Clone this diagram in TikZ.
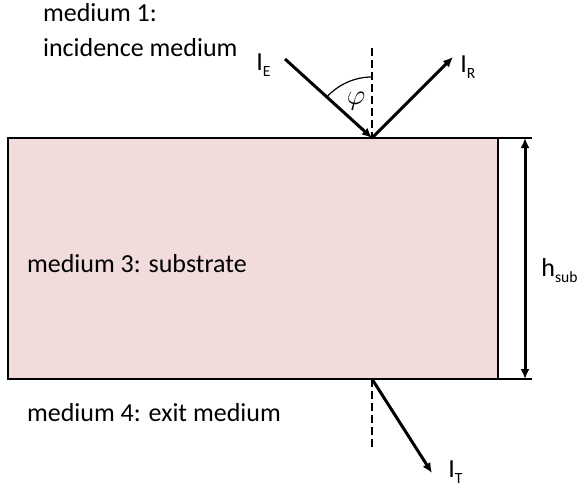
\documentclass[tikz,border=0pt]{standalone}
\usepackage{fontspec}
\setmainfont{Carlito}
\usetikzlibrary{calc,arrows.meta}
\definecolor{substrate}{HTML}{F2DCDB}
\newcommand{\lsub}[1]{\raisebox{-3.3pt}{\fontsize{7.8}{9}\selectfont #1}}

\begin{document}
\begin{tikzpicture}[x=0.5pt,y=-0.5pt,font=\fontsize{13}{15}\selectfont]
    \useasboundingbox (0,0) rectangle (581,487);
    \coordinate (TL) at (8,138);
    \coordinate (BR) at (498,379);
    \coordinate (P) at (372,138);
    \coordinate (Q) at (372,379);
    \coordinate (E) at (285,59);
    \coordinate (R) at (453,57);
    \coordinate (T) at (432,473);
    \coordinate (H1) at (525,138);
    \coordinate (H2) at (525,379);
    \fill[substrate] (TL) rectangle (BR);
    \draw[line width=1pt] (TL) rectangle (BR);
    \draw[line width=0.7pt] (BR) -- (532,379);
    \draw[line width=0.7pt] (498,138) -- (532,138);
    \draw[dash pattern=on 4pt off 2pt, line width=0.7pt] (372,48) -- (P);
    \draw[dash pattern=on 4pt off 2pt, line width=0.7pt] (Q) -- (372,448);
    \draw[line width=1.5pt, -{Latex[length=5pt,width=4.5pt]}] (E) -- (P);
    \draw[line width=1.5pt, -{Latex[length=5pt,width=4.5pt]}] (P) -- (R);
    \draw[line width=1.5pt, -{Latex[length=5pt,width=4.5pt]}] (Q) -- (T);
    \draw[line width=1.5pt, {Latex[length=5pt,width=4.5pt]}-{Latex[length=5pt,width=4.5pt]}] (H1) -- (H2);
    \draw[line width=0.6pt] ($(P)+(-90:61)$) arc[start angle=-90, end angle=-137.8, radius=61];
    \node[font=\fontsize{15}{17}\selectfont] (phi) at (356,101) {$\varphi$};
    \node[anchor=base west, inner sep=0pt] (IE) at (256,70) {I\lsub{E}};
    \node[anchor=base west, inner sep=0pt] (IR) at (460,72) {I\lsub{R}};
    \node[anchor=base west, inner sep=0pt] (IT) at (448,477) {I\lsub{T}};
    \node[anchor=base west, inner sep=0pt] (hsub) at (541,276) {h\lsub{sub}};
    \node[anchor=base west] (m1) at (36,21) {medium 1:};
    \node[anchor=base west] (m1b) at (36,56) {incidence medium};
    \node[anchor=west] (m3) at (20,264) {medium 3: substrate};
    \node[anchor=west] (m4) at (20,413) {medium 4: exit medium};
\end{tikzpicture}
\end{document}
